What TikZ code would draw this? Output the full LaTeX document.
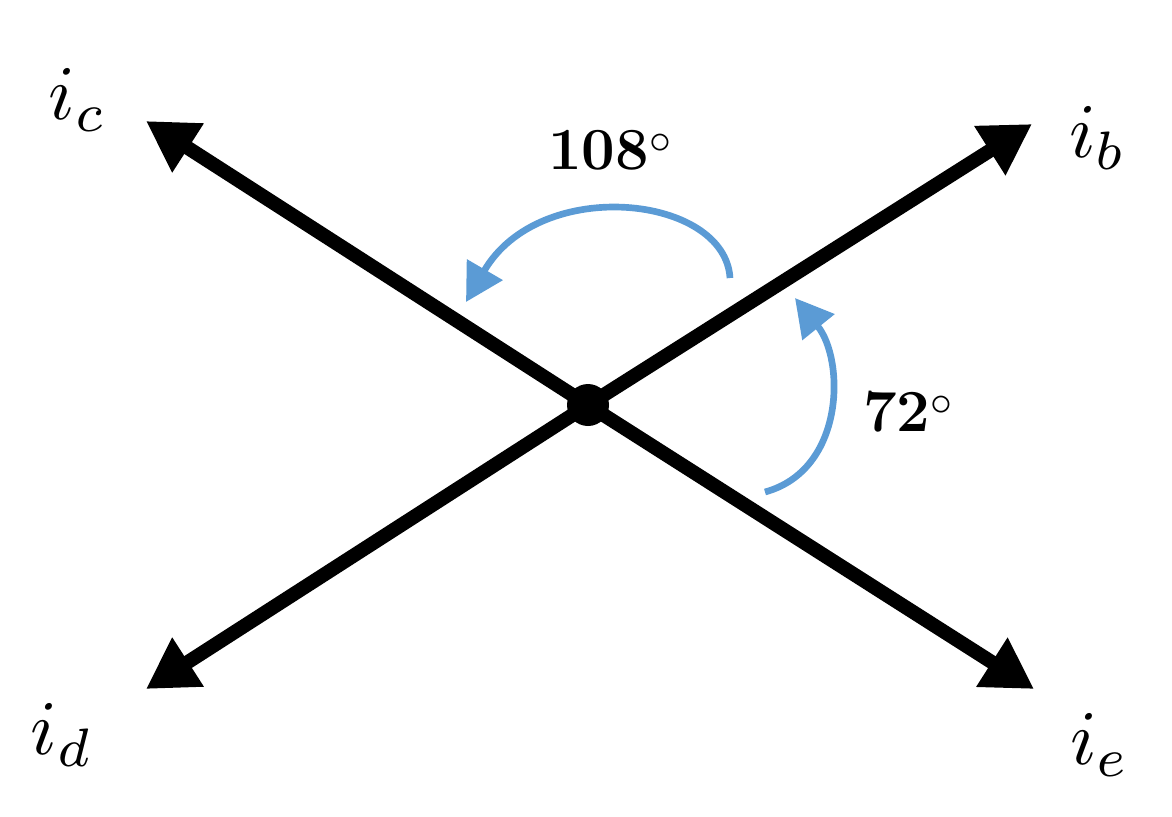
\documentclass[tikz,border=0pt]{standalone}
\usepackage{graphicx}
\usetikzlibrary{arrows.meta}
\definecolor{arcblue}{RGB}{91,155,213}
\newcommand{\biglab}[1]{\scalebox{4.4}{$#1$}}
\begin{document}
\begin{tikzpicture}[x=0.02cm,y=-0.02cm,
  vec/.style={line width=8pt,-{Triangle[length=1.0cm,width=1.1cm]}},
  angarc/.style={arcblue,line width=3.8pt,-{Triangle[length=0.75cm,width=0.8cm]}},
  lab/.style={inner sep=0pt},
  deg/.style={font=\bfseries\fontsize{34}{38}\selectfont}]
\useasboundingbox (0,0) rectangle (1172,816);
\coordinate (o) at (588,405);
\coordinate (b) at (1032,124);
\coordinate (c) at (146,121);
\coordinate (d) at (146,689);
\coordinate (e) at (1034,689);
\draw[vec] (o) -- (b);
\draw[vec] (o) -- (c);
\draw[vec] (o) -- (d);
\draw[vec] (o) -- (e);
\fill (o) circle (0.42cm);
\coordinate (a1s) at (730,278);
\coordinate (a1e) at (466,302);
\draw[angarc] (a1s) .. controls (725,195) and (540,175) .. (a1e);
\coordinate (a2s) at (765,492);
\coordinate (a2e) at (795,298);
\draw[angarc] (a2s) .. controls (845,470) and (845,360) .. (a2e);
\node[lab] (lc) at (78,100) {\biglab{i_c}};
\node[lab] (lb) at (1098,138) {\biglab{i_b}};
\node[lab] (ld) at (62,735) {\biglab{i_d}};
\node[lab] (le) at (1100,745) {\biglab{i_e}};
\node[deg] (t108) at (610,150) {108$^{\circ}$};
\node[deg] (t72) at (908,412) {72$^{\circ}$};
\end{tikzpicture}
\end{document}
